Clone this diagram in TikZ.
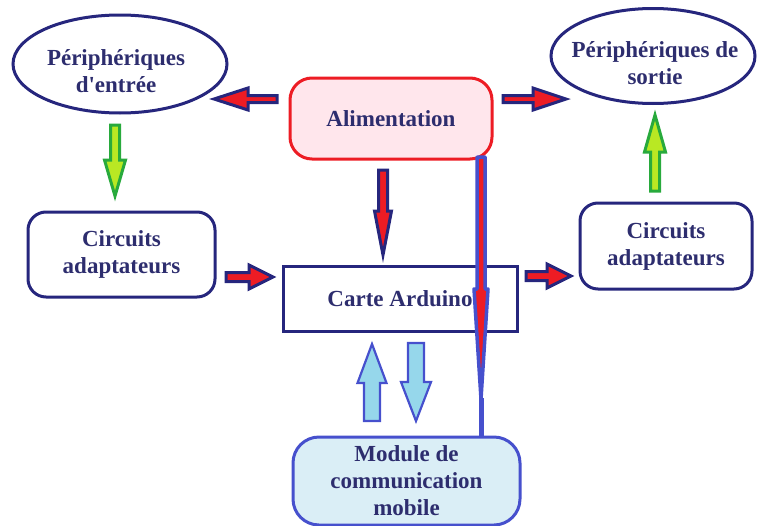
\documentclass[tikz,border=0pt]{standalone}
\usepackage{fontspec}
\setmainfont{Liberation Serif}
\usetikzlibrary{shapes.geometric}
\definecolor{navy}{RGB}{38,38,125}
\definecolor{textc}{RGB}{45,45,110}
\definecolor{ared}{RGB}{237,28,36}
\definecolor{pinkf}{RGB}{255,230,236}
\definecolor{mblue}{RGB}{70,80,205}
\definecolor{mfill}{RGB}{218,238,246}
\definecolor{afill}{RGB}{150,215,235}
\definecolor{gfill}{RGB}{185,232,35}
\definecolor{gline}{RGB}{40,170,60}
\newcommand\myarrow[7]{\begin{scope}[shift={#2},rotate=#3]\draw[#1] (0,-#5) -- ({#4-#7},-#5) -- ({#4-#7},-#6) -- (#4,0) -- ({#4-#7},#6) -- ({#4-#7},#5) -- (0,#5) -- cycle;\end{scope}}
\begin{document}
\begin{tikzpicture}[x=1pt,y=-1pt,
  txt/.style={font=\bfseries\fontsize{23}{27}\selectfont, text=textc, align=center, inner sep=0pt},
  ell/.style={ellipse, draw=navy, line width=3pt, txt},
  rbox/.style={rectangle, rounded corners=18pt, draw=navy, line width=3pt, txt},
  redarr/.style={draw=navy, fill=ared, line width=3pt, line join=miter},
  grnarr/.style={draw=gline, fill=gfill, line width=3pt, line join=miter},
  bluarr/.style={draw=mblue, fill=afill, line width=2.2pt, line join=miter},
  longarr/.style={draw=mblue, fill=ared, line width=3.5pt, line join=round}]
\useasboundingbox (0,0) rectangle (757,525);
\node[ell, minimum width=214pt, minimum height=98pt] (pin) at (120,64) {};
\node[txt] (pint) at (116,71) {Périphériques\\d\textquotesingle entrée};
\node[ell, minimum width=204pt, minimum height=95pt] (pout) at (653,56) {};
\node[txt] (poutt) at (655,63) {Périphériques de\\sortie};
\node[rbox, draw=ared, fill=pinkf, minimum width=202pt, minimum height=81pt, rounded corners=22pt] (alim) at (391,118.5) {Alimentation};
\node[rectangle, draw=navy, line width=3pt, fill=white, minimum width=234pt, minimum height=65pt, txt] (carte) at (400,298.5) {Carte Arduino};
\node[rbox, minimum width=187pt, minimum height=85pt] (cin) at (121.5,254.5) {Circuits\\adaptateurs};
\node[rbox, minimum width=172pt, minimum height=86pt] (cout) at (666,246) {Circuits\\adaptateurs};
\node[rbox, draw=mblue, fill=mfill, minimum width=227pt, minimum height=88pt, rounded corners=26pt] (mod) at (406.5,481) {Module de\\communication\\mobile};
% block arrows
\myarrow{redarr}{(277,99)}{180}{63}{3.5}{11}{34}
\myarrow{redarr}{(503,99)}{0}{63}{3.5}{11}{33}
\myarrow{redarr}{(383,170)}{-90}{85}{4.5}{8.5}{44}
\myarrow{redarr}{(226,277)}{0}{47}{4.5}{12}{24}
\myarrow{redarr}{(526,276)}{0}{45}{4.5}{12}{24}
\myarrow{grnarr}{(115,125)}{-90}{71}{4.5}{10.5}{36}
\myarrow{grnarr}{(655,191)}{90}{76}{4.5}{10.5}{37}
\myarrow{bluarr}{(372,421)}{90}{77}{8}{14.5}{39}
\myarrow{bluarr}{(416,343)}{-90}{78}{8}{15}{39}
\myarrow{longarr}{(481,157)}{-90}{242}{4}{7}{110}
\coordinate (ltip) at (481,398);
\draw[mblue, line width=5pt] (ltip) -- (ltip |- mod.north);
\end{tikzpicture}
\end{document}
